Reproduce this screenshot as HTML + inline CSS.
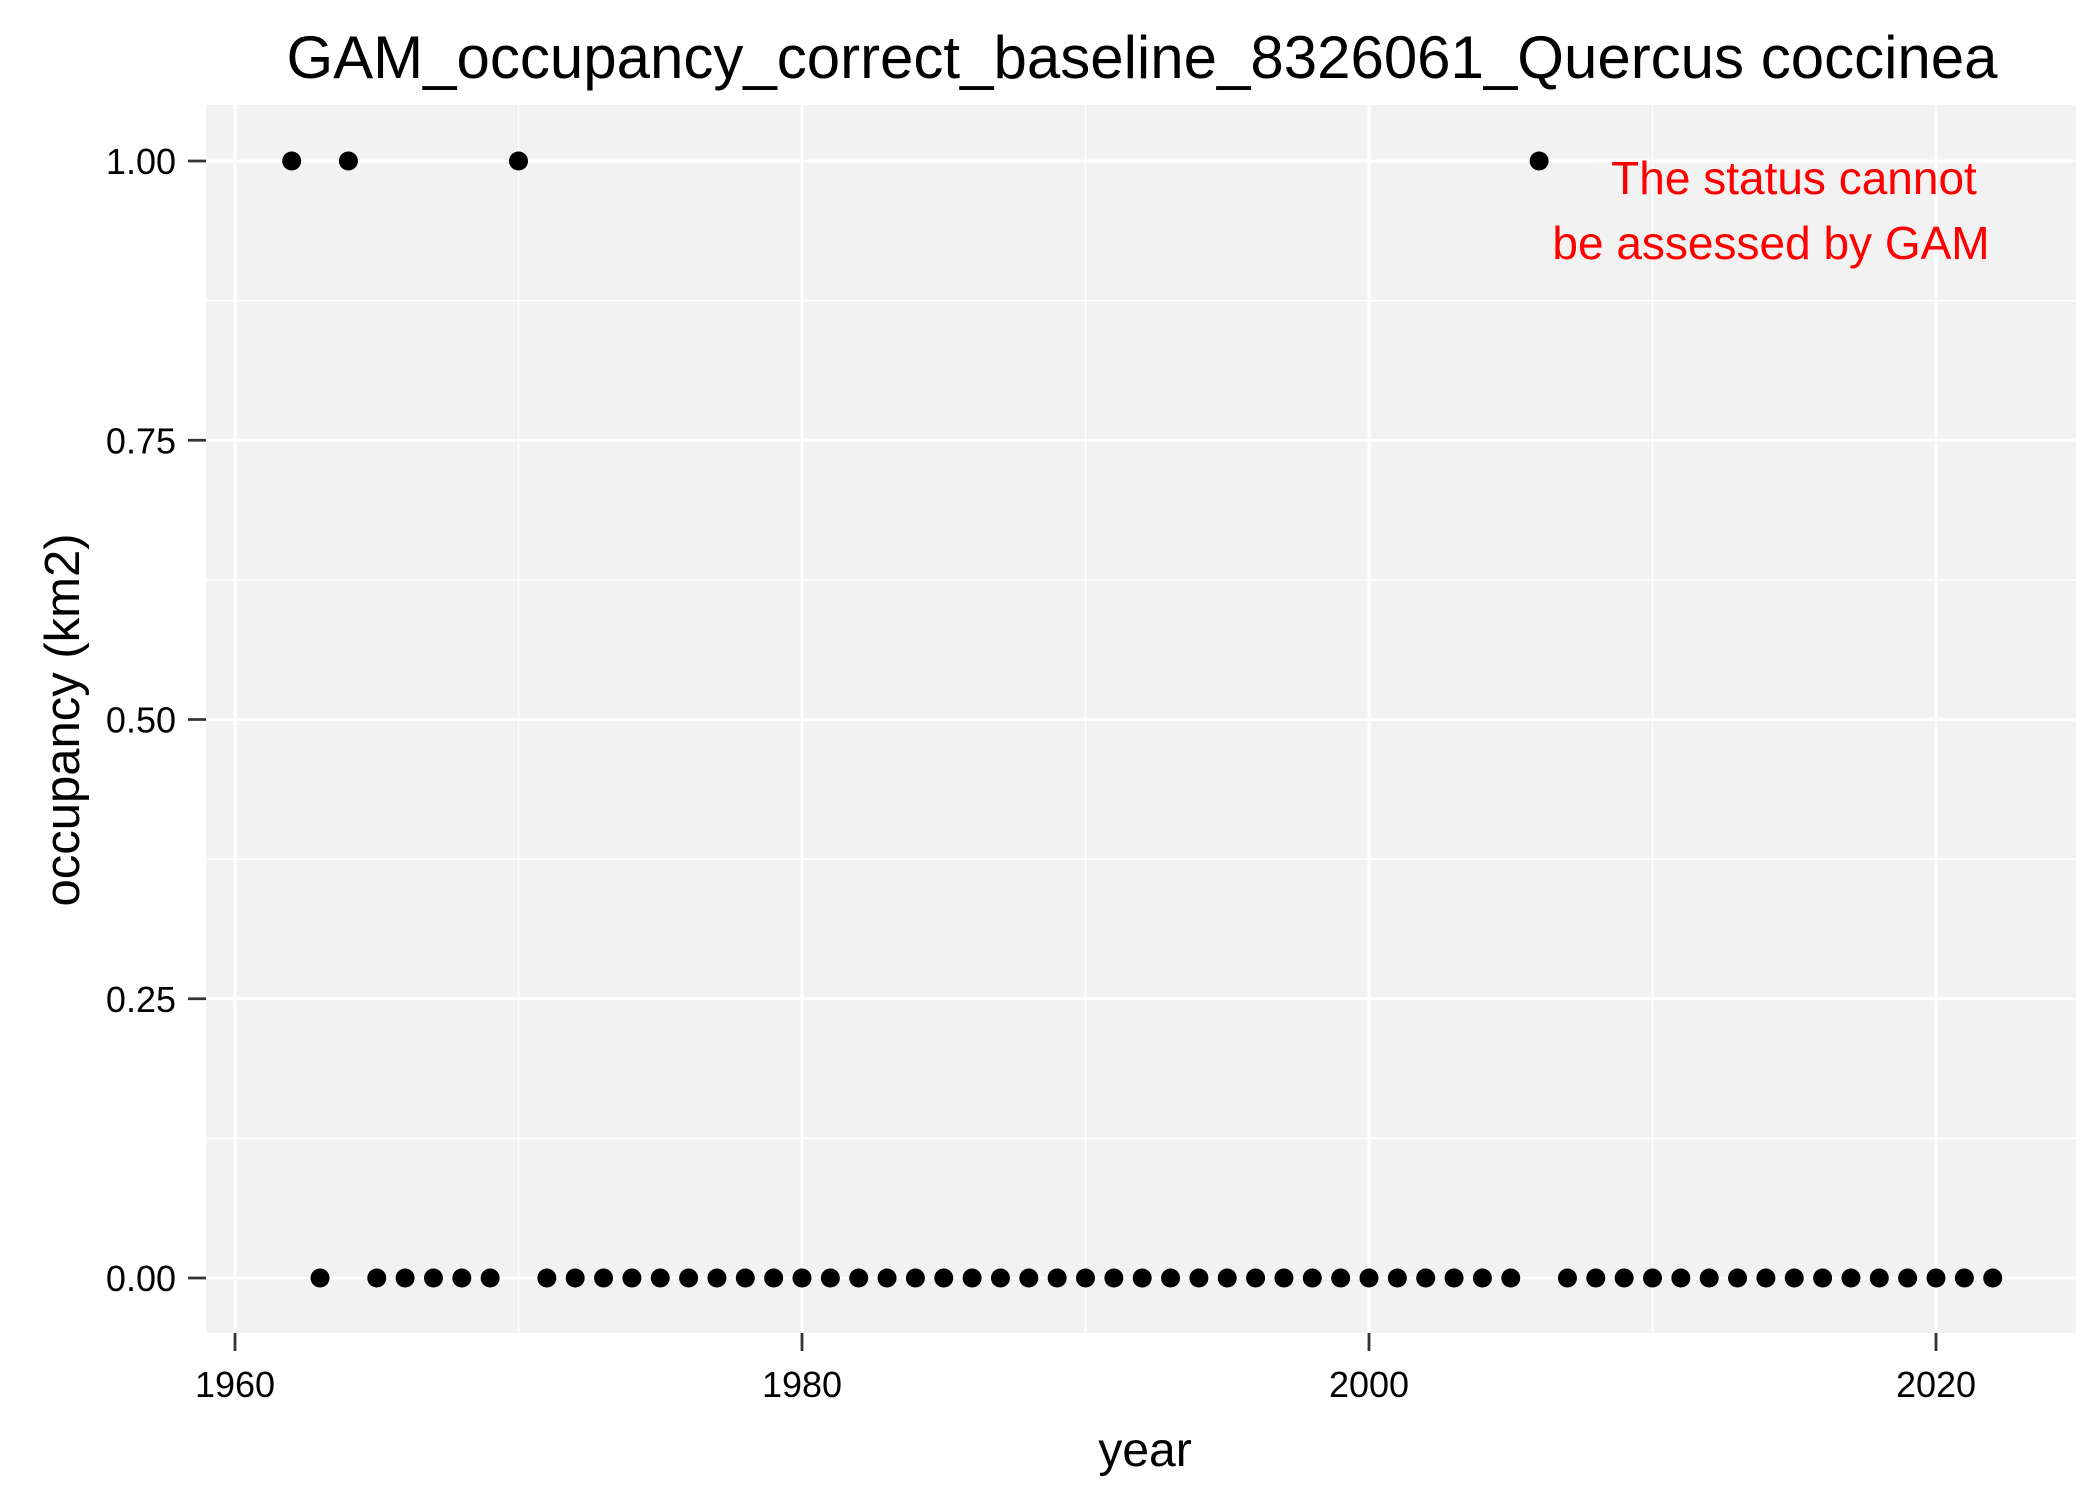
<!DOCTYPE html>
<html><head><meta charset="utf-8"><style>
body{margin:0;background:#fff}
svg{display:block;font-family:"Liberation Sans",Arial,sans-serif}
</style></head><body>
<svg id="chart" width="2100" height="1499">
<text x="1142" y="78" font-size="60" text-anchor="middle">GAM_occupancy_correct_baseline_8326061_Quercus coccinea</text>
<rect x="206" y="105" width="1870" height="1228" fill="#f2f2f2"/>
<g id="grid"></g>
<g id="axes"></g>
<g id="points"></g>
<text x="1794" y="194" font-size="46" fill="#ff0000" text-anchor="middle">The status cannot</text>
<text x="1771" y="259" font-size="46" fill="#ff0000" text-anchor="middle">be assessed by GAM</text>
<text x="1145" y="1466" font-size="48" text-anchor="middle">year</text>
<text x="0" y="0" font-size="49" text-anchor="middle" transform="translate(79,720) rotate(-90)">occupancy (km2)</text>
</svg>
<script>
const years=[1962,1963,1964,1965,1966,1967,1968,1969,1970,1971,1972,1973,1974,1975,1976,1977,1978,1979,1980,1981,1982,1983,1984,1985,1986,1987,1988,1989,1990,1991,1992,1993,1994,1995,1996,1997,1998,1999,2000,2001,2002,2003,2004,2005,2006,2007,2008,2009,2010,2011,2012,2013,2014,2015,2016,2017,2018,2019,2020,2021,2022];
const occupancy=[1,0,1,0,0,0,0,0,1,0,0,0,0,0,0,0,0,0,0,0,0,0,0,0,0,0,0,0,0,0,0,0,0,0,0,0,0,0,0,0,0,0,0,0,1,0,0,0,0,0,0,0,0,0,0,0,0,0,0,0,0];
const xTicks=[1960,1980,2000,2020];
const xMinor=[1970,1990,2010];
const yTicks=[0,0.25,0.5,0.75,1];
const yMinor=[0.125,0.375,0.625,0.875];
const NS="http://www.w3.org/2000/svg";
const X=v=>235+(v-1960)*(1936-235)/60;
const Y=v=>1278-v*(1278-161);
function mk(tag,attrs,parent){const e=document.createElementNS(NS,tag);for(const k in attrs)e.setAttribute(k,attrs[k]);parent.appendChild(e);return e;}
const grid=document.getElementById('grid'),axes=document.getElementById('axes'),pts=document.getElementById('points');
xMinor.forEach(v=>{const l=mk('line',{x1:X(v),x2:X(v),y1:105,y2:1333,stroke:'#fff','stroke-width':1.4},grid);

});
yMinor.forEach(v=>{const l=mk('line',{x1:206,x2:2076,y1:Y(v),y2:Y(v),stroke:'#fff','stroke-width':1.4},grid);

});
xTicks.forEach(v=>{const l=mk('line',{x1:X(v),x2:X(v),y1:105,y2:1333,stroke:'#fff','stroke-width':2.8},grid);


const t=mk('line',{x1:X(v),x2:X(v),y1:1333,y2:1351,stroke:'#333','stroke-width':2.8},axes);


const tx=mk('text',{x:X(v),y:1397,'font-size':36,'text-anchor':'middle',fill:'#000'},axes);tx.textContent=v;

});
yTicks.forEach(v=>{const l=mk('line',{x1:206,x2:2076,y1:Y(v),y2:Y(v),stroke:'#fff','stroke-width':2.8},grid);


const t=mk('line',{x1:188,x2:206,y1:Y(v),y2:Y(v),stroke:'#333','stroke-width':2.8},axes);


const tx=mk('text',{x:176,y:Y(v)+13,'font-size':36,'text-anchor':'end',fill:'#000'},axes);tx.textContent=v.toFixed(2);

});
years.forEach((yr,i)=>{const c=mk('circle',{cx:X(yr),cy:Y(occupancy[i]),r:9.5,fill:'#000'},pts);

});
</script>
</body></html>
